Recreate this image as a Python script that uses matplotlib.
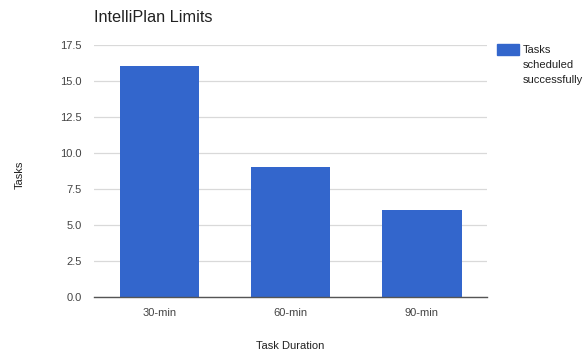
import matplotlib
matplotlib.use("Agg")
import matplotlib.pyplot as plt

plt.rcParams['font.family'] = ['Liberation Sans', 'DejaVu Sans']

categories = ["30-min", "60-min", "90-min"]
tasks = [16, 9, 6]
series_name = "Tasks\nscheduled\nsuccessfully"
y_ticks = [0.0, 2.5, 5.0, 7.5, 10.0, 12.5, 15.0, 17.5]

fig = plt.figure(figsize=(5.84, 3.56), dpi=100)
ax = fig.add_axes([0.161, 0.1666, 0.673, 0.7078])

x = range(len(categories))
ax.bar(x, tasks, width=0.61, color="#3366CC", zorder=3)

ax.set_xlim(-0.5, len(categories) - 0.5)
ax.set_ylim(0, 17.5)
ax.set_yticks(y_ticks)
ax.set_yticklabels([f"{v:.1f}" for v in y_ticks])
ax.set_xticks(list(x))
ax.set_xticklabels(categories)

ax.grid(axis="y", color="#d9d9d9", linewidth=0.9, zorder=0)
for side in ("top", "right", "left"):
    ax.spines[side].set_visible(False)
ax.spines["bottom"].set_color("#555555")
ax.spines["bottom"].set_linewidth(1.0)
ax.spines["bottom"].set_zorder(4)
ax.tick_params(axis="both", length=0, labelsize=8, colors="#444444")
ax.tick_params(axis="y", pad=9)
ax.tick_params(axis="x", pad=8)

fig.text(94 / 584, 1 - 18 / 356, "IntelliPlan Limits", fontsize=11.7,
         color="#222222", ha="left", va="center")
fig.text(20 / 584, 1 - 175 / 356, "Tasks", fontsize=8, color="#222222",
         rotation=90, ha="center", va="center")
fig.text(290 / 584, 1 - 346 / 356, "Task Duration", fontsize=8,
         color="#222222", ha="center", va="center")

# legend: swatch plus wrapped series name
fig.patches.append(plt.Rectangle((497 / 584, 1 - 55 / 356), 22 / 584, 11 / 356,
                                 transform=fig.transFigure, color="#3366CC",
                                 figure=fig))
fig.text(523 / 584, 1 - 45 / 356, series_name, fontsize=8, color="#222222",
         ha="left", va="top", linespacing=1.6)

fig.savefig("out.png", dpi=100)
